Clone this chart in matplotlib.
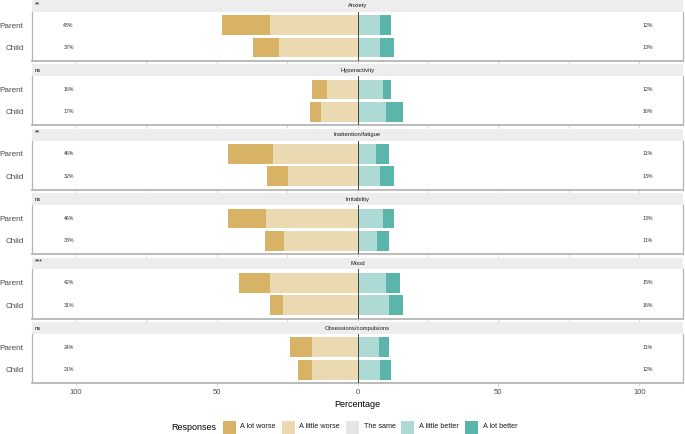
import matplotlib
matplotlib.use("Agg")
import matplotlib.pyplot as plt
from matplotlib.patches import Rectangle
import numpy as np

plt.rcParams['font.family'] = ['Liberation Sans', 'DejaVu Sans']

# ---------------- data ----------------
categories = ["Anxiety", "Hyperactivity", "Inattention/fatigue",
              "Irritability", "Mood", "Obsessions/compulsions"]
significance = ["**", "ns", "**", "ns", "***", "ns"]
raters = ["Parent", "Child"]
responses = ["A lot worse", "A little worse", "The same", "A little better", "A lot better"]
colors = ["#D9B365", "#EAD9B1", "#E5E5E5", "#AEDAD6", "#5BB5AB"]

# parent values per category
parent_lot_worse = [17, 5, 16, 13.5, 11, 8]
parent_little_worse = [31, 11, 30, 32.5, 31, 16]
parent_little_better = [8, 9, 6.5, 9, 10, 7.5]
parent_lot_better = [4, 3, 4.5, 4, 5, 3.5]
# child values per category
child_lot_worse = [9, 4, 7.5, 7, 4.5, 5]
child_little_worse = [28, 13, 24.5, 26, 26.5, 16]
child_little_better = [8, 10, 8, 7, 11, 8]
child_lot_better = [5, 6, 5, 4, 5, 4]

# labels
worse_pct_parent = [48, 16, 46, 46, 42, 24]
worse_pct_child = [37, 17, 32, 33, 31, 21]
better_pct_parent = [12, 12, 11, 13, 15, 11]
better_pct_child = [13, 16, 13, 11, 16, 12]

xticks = [-100, -50, 0, 50, 100]
xticklabels = ["100", "50", "0", "50", "100"]

# ---------------- layout ----------------
W, H = 685, 434
fig = plt.figure(figsize=(W / 100, H / 100), dpi=100)
fig.patch.set_facecolor("white")


def rect(x0, top, w, h):
    return [x0 / W, 1 - (top + h) / H, w / W, h / H]


px_left, px_width = 32, 651
step = 64.46
strip_h = 11.6
body_h = 49.2
border_c = "#b5b5b5"

for i, cat in enumerate(categories):
    top = i * step
    # strip
    sax = fig.add_axes(rect(px_left, top, px_width, strip_h))
    sax.set_facecolor("#ededed")
    sax.set_xlim(-115.5, 115.5)
    sax.set_ylim(0, 1)
    for s in sax.spines.values():
        s.set_visible(False)
    sax.set_xticks([])
    sax.set_yticks([])
    sax.text(0, 0.5, cat, ha="center", va="center", fontsize=4.2, color="#1a1a1a")
    sig = significance[i]
    sax.text(0.0045, 0.62 if "*" in sig else 0.5, sig, ha="left", va="center",
             fontsize=5.0 if "*" in sig else 4.2,
             color="#1a1a1a", transform=sax.transAxes)

    # body
    ax = fig.add_axes(rect(px_left, top + strip_h, px_width, body_h))
    ax.set_xlim(-115.5, 115.5)
    ax.set_ylim(-0.6, 1.6)
    ax.set_facecolor("white")

    data = {
        "Parent": (parent_lot_worse[i], parent_little_worse[i],
                   parent_little_better[i], parent_lot_better[i]),
        "Child": (child_lot_worse[i], child_little_worse[i],
                  child_little_better[i], child_lot_better[i]),
    }
    ypos = {"Parent": 1, "Child": 0}
    for r in raters:
        lw_, lw2, lb, lb2 = data[r]
        y = ypos[r]
        ax.barh(y, -lw2, left=0, height=0.88, color=colors[1], linewidth=0)
        ax.barh(y, -lw_, left=-lw2, height=0.88, color=colors[0], linewidth=0)
        ax.barh(y, lb, left=0, height=0.88, color=colors[3], linewidth=0)
        ax.barh(y, lb2, left=lb, height=0.88, color=colors[4], linewidth=0)

    ax.text(-102.5, 1, f"{worse_pct_parent[i]}%", ha="center", va="center", fontsize=3.8, color="#333333")
    ax.text(-102.5, 0, f"{worse_pct_child[i]}%", ha="center", va="center", fontsize=3.8, color="#333333")
    ax.text(103, 1, f"{better_pct_parent[i]}%", ha="center", va="center", fontsize=3.8, color="#333333")
    ax.text(103, 0, f"{better_pct_child[i]}%", ha="center", va="center", fontsize=3.8, color="#333333")

    ax.axvline(0, color="#444444", linewidth=0.7, zorder=5)

    ax.set_yticks([1, 0])
    ax.set_yticklabels(raters, fontsize=5.9, color="#4d4d4d")
    ax.tick_params(axis="y", length=0, pad=6)

    ax.set_xticks([-100, -75, -50, -25, 0, 25, 50, 75, 100])
    ax.tick_params(axis="x", length=2.0, width=0.6, color="#d0d0d0", direction="out")
    if i == len(categories) - 1:
        ax.set_xticks(xticks)
        ax.set_xticklabels(xticklabels, fontsize=5.5, color="#4d4d4d")
        ax.tick_params(axis="x", length=2, pad=2, color="#d0d0d0")
        ax.set_xlabel("Percentage", fontsize=6.5, color="black", labelpad=3)
    else:
        ax.set_xticklabels([])

    for side in ["left", "right", "bottom"]:
        ax.spines[side].set_color(border_c)
        ax.spines[side].set_linewidth(0.9)
    ax.spines["bottom"].set_linewidth(1.3)
    ax.spines["top"].set_visible(False)

# ---------------- legend ----------------
leg_y = 427
key = 13
fig.text(171 / W, 1 - leg_y / H, "Responses", ha="left", va="center", fontsize=6.5, color="black")
label_x = [240, 299.3, 364, 418.7, 482.7]
for lab, col, lx in zip(responses, colors, label_x):
    kx = lx - 17.5
    fig.add_artist(Rectangle((kx / W, 1 - (leg_y + key / 2) / H), key / W, key / H,
                             transform=fig.transFigure, facecolor=col, edgecolor="none"))
    fig.text(lx / W, 1 - leg_y / H, lab, ha="left", va="center", fontsize=5.2, color="#1a1a1a")

fig.savefig("out.png", dpi=100, facecolor="white")
